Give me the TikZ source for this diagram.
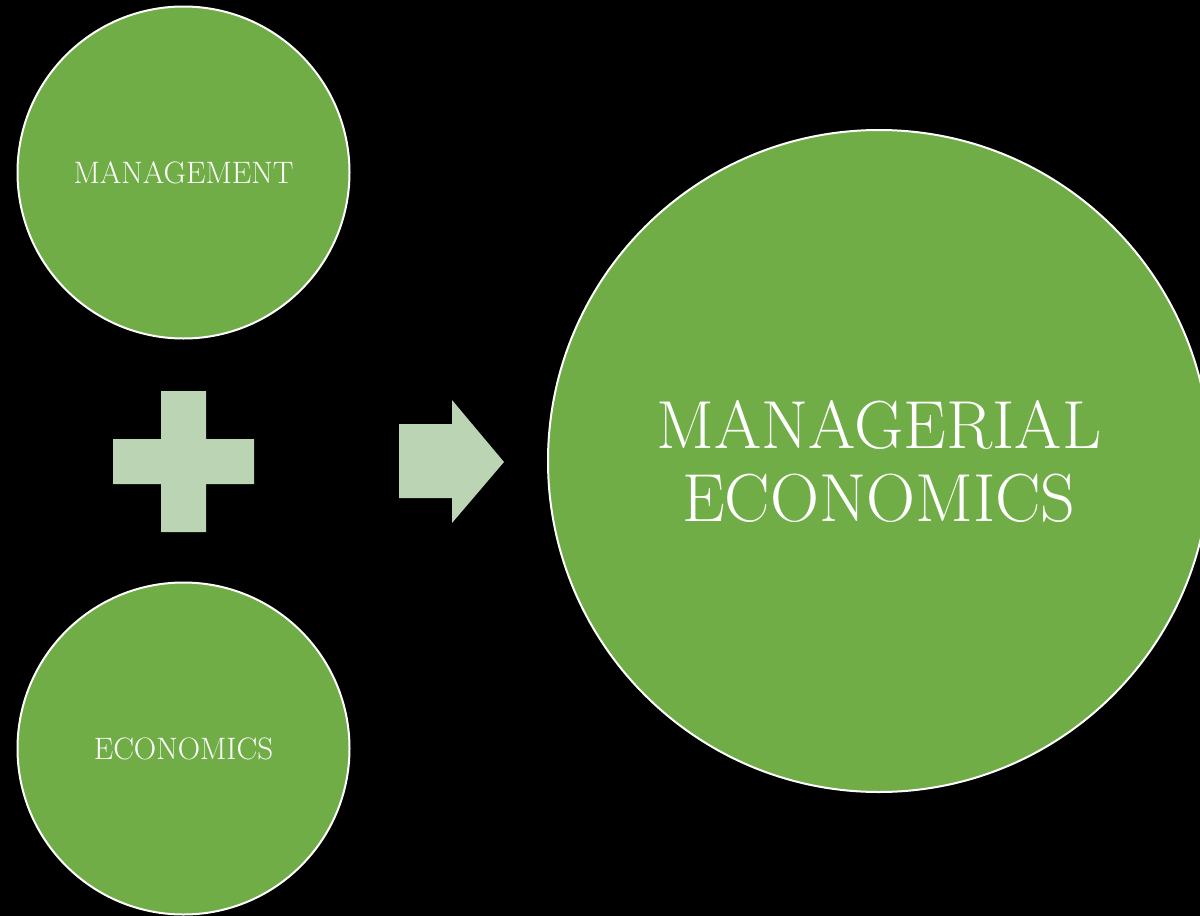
\documentclass[tikz,border=0pt]{standalone}
\usepackage{tikz}

\definecolor{ballgreen}{RGB}{112,173,71}
\definecolor{signgreen}{RGB}{187,212,180}

\tikzset{
  ball/.style={circle, draw=white, line width=2pt, fill=ballgreen, inner sep=0pt, text=white, align=center},
  sign/.style={fill=signgreen, draw=none}
}

\begin{document}
\begin{tikzpicture}[x=1pt, y=-1pt]
    % Background
    \fill[black] (0,0) rectangle (1200,916);
    \useasboundingbox (0,0) rectangle (1200,916);
    \clip (0,0) rectangle (1200,916);
    % Nodes
    \node[ball, minimum size=332pt, font=\fontsize{31}{34}\selectfont] (M) at (183.5,172.5) {MANAGEMENT};
    \node[ball, minimum size=332pt, font=\fontsize{31}{34}\selectfont] (E) at (183.5,748.5) {ECONOMICS};
    \node[ball, minimum size=662pt, font=\fontsize{68}{73}\selectfont] (ME) at (879,461) {MANAGERIAL\\ECONOMICS};
    % Plus
    \fill[sign] (161,391) -- (206,391) -- (206,439) -- (254,439) -- (254,484)
        -- (206,484) -- (206,532) -- (161,532) -- (161,484) -- (113,484)
        -- (113,439) -- (161,439) -- cycle;
    % Arrow
    \fill[sign] (399,424) -- (452,424) -- (452,400) -- (504,462) -- (452,523)
        -- (452,498) -- (399,498) -- cycle;
\end{tikzpicture}
\end{document}
